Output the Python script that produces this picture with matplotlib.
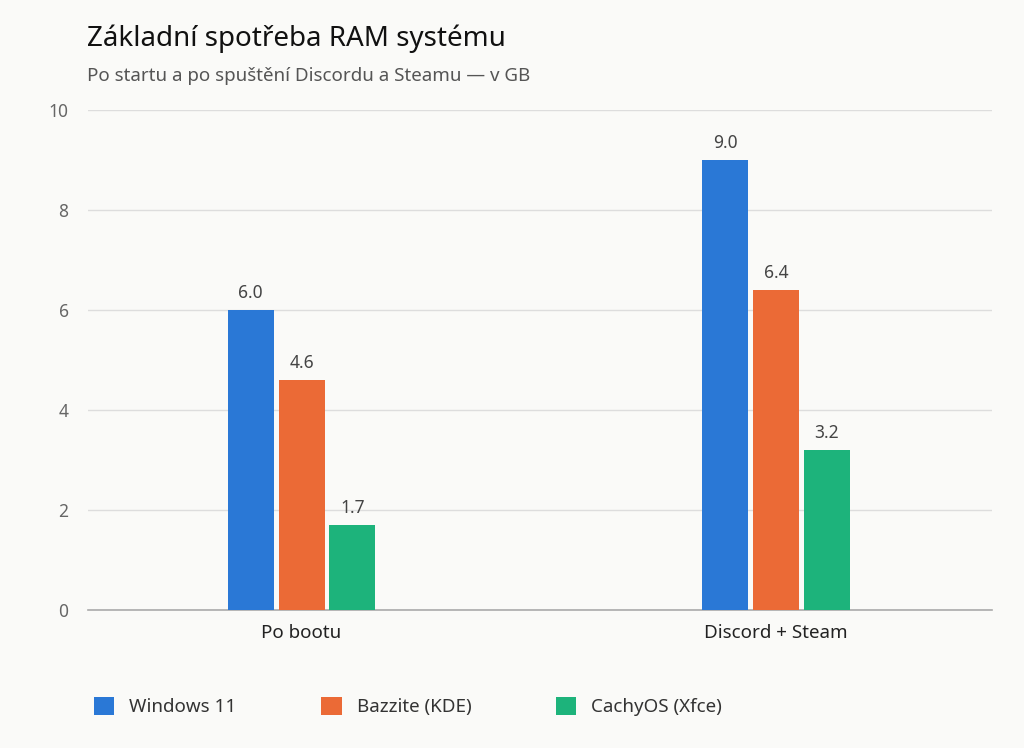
import matplotlib.pyplot as plt
import numpy as np

plt.rcParams['font.family'] = ['Noto Sans', 'DejaVu Sans']

categories = ['Po bootu', 'Discord + Steam']
series = ['Windows 11', 'Bazzite (KDE)', 'CachyOS (Xfce)']
values = [[6.0, 9.0], [4.6, 6.4], [1.7, 3.2]]
colors = ['#2a78d6', '#eb6a36', '#1db37b']

bg = '#fafaf8'
fig = plt.figure(figsize=(10.24, 7.48), dpi=100, facecolor=bg)
ax = fig.add_axes([0.086, 0.1845, 0.883, 0.6685], facecolor=bg)

x = np.arange(len(categories))
w = 0.097
step = 0.107
for i, (name, vals, c) in enumerate(zip(series, values, colors)):
    pos = x + (i - 1) * step
    bars = ax.bar(pos, vals, w, color=c, label=name, zorder=3)
    for b in bars:
        b.set_path_effects([])
    for p, v in zip(pos, vals):
        ax.text(p, v + 0.15, f'{v:.1f}', ha='center', va='bottom', fontsize=12.5, color='#444444')

ax.set_xlim(-0.45, 1.456)
ax.set_ylim(0, 10)
ax.set_yticks([0, 2, 4, 6, 8, 10])
ax.set_xticks(x)
ax.set_xticklabels(categories, fontsize=13.5, color='#222222')
ax.tick_params(axis='y', length=0, labelsize=12.5, labelcolor='#666666', pad=14)
ax.tick_params(axis='x', length=0, pad=10)
ax.grid(axis='y', color='#dddddd', linewidth=1, zorder=0)
for s in ['top', 'right', 'left']:
    ax.spines[s].set_visible(False)
ax.spines['bottom'].set_color('#aaaaaa')
ax.spines['bottom'].set_linewidth(1.2)

fig.text(0.085, 0.948, 'Základní spotřeba RAM systému', fontsize=20, fontweight='bold', color='#111111', va='center')
fig.text(0.085, 0.899, 'Po startu a po spuštění Discordu a Steamu — v GB', fontsize=13.5, color='#555555', va='center')

fig.legend(loc='lower left', bbox_to_anchor=(0.075, 0.02), ncol=3, frameon=False,
           fontsize=13.5, handlelength=1.1, handleheight=1.1, columnspacing=4.5,
           labelcolor='#333333')

fig.savefig('out.png', dpi=100, facecolor=bg)
